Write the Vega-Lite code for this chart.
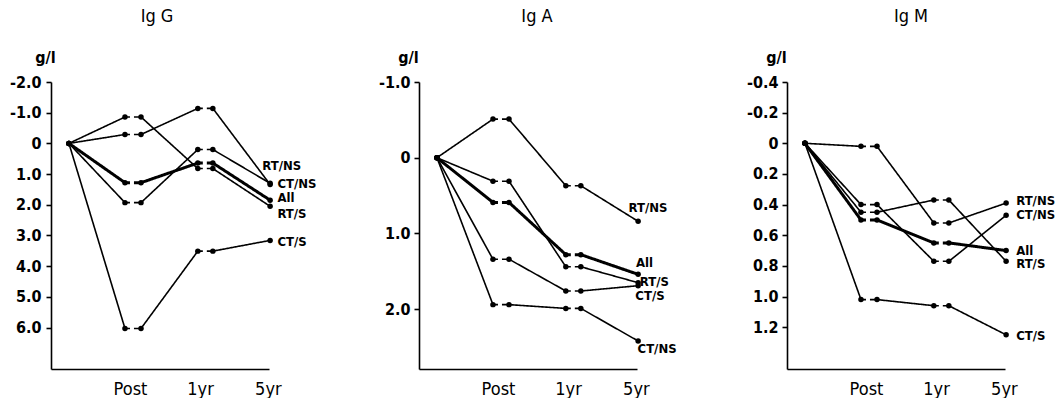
{
  "$schema": "https://vega.github.io/schema/vega-lite/v6.json",
  "padding": {"left": 9, "top": 8, "right": 0, "bottom": 0},
  "background": "white",
  "config": {
    "view": {"stroke": null},
    "font": "DejaVu Sans Condensed",
    "axis": {"grid": false, "domainColor": "black", "domainWidth": 1.6, "tickColor": "black", "tickWidth": 1.6, "labelColor": "black", "titleColor": "black", "labelFont": "DejaVu Sans Condensed", "titleFont": "DejaVu Sans Condensed"},
    "concat": {"spacing": 150}
  },
  "datasets": {
    "pts": [
      {"panel": "Ig G", "series": "All", "time": "Pre", "t": 0, "v": 0},
      {"panel": "Ig G", "series": "All", "time": "Post", "t": 1.0, "v": 1.28},
      {"panel": "Ig G", "series": "All", "time": "Post", "t": 1.286, "v": 1.28},
      {"panel": "Ig G", "series": "All", "time": "1yr", "t": 2.3, "v": 0.64},
      {"panel": "Ig G", "series": "All", "time": "1yr", "t": 2.568, "v": 0.64},
      {"panel": "Ig G", "series": "All", "time": "5yr", "t": 3.59, "v": 1.85},
      {"panel": "Ig G", "series": "RT/S", "time": "Pre", "t": 0, "v": 0},
      {"panel": "Ig G", "series": "RT/S", "time": "Post", "t": 1.0, "v": -0.86},
      {"panel": "Ig G", "series": "RT/S", "time": "Post", "t": 1.286, "v": -0.86},
      {"panel": "Ig G", "series": "RT/S", "time": "1yr", "t": 2.3, "v": 0.82},
      {"panel": "Ig G", "series": "RT/S", "time": "1yr", "t": 2.568, "v": 0.82},
      {"panel": "Ig G", "series": "RT/S", "time": "5yr", "t": 3.59, "v": 2.05},
      {"panel": "Ig G", "series": "RT/NS", "time": "Pre", "t": 0, "v": 0},
      {"panel": "Ig G", "series": "RT/NS", "time": "Post", "t": 1.0, "v": 1.93},
      {"panel": "Ig G", "series": "RT/NS", "time": "Post", "t": 1.286, "v": 1.93},
      {"panel": "Ig G", "series": "RT/NS", "time": "1yr", "t": 2.3, "v": 0.2},
      {"panel": "Ig G", "series": "RT/NS", "time": "1yr", "t": 2.568, "v": 0.2},
      {"panel": "Ig G", "series": "RT/NS", "time": "5yr", "t": 3.59, "v": 1.3},
      {"panel": "Ig G", "series": "CT/NS", "time": "Pre", "t": 0, "v": 0},
      {"panel": "Ig G", "series": "CT/NS", "time": "Post", "t": 1.0, "v": -0.29},
      {"panel": "Ig G", "series": "CT/NS", "time": "Post", "t": 1.286, "v": -0.29},
      {"panel": "Ig G", "series": "CT/NS", "time": "1yr", "t": 2.3, "v": -1.14},
      {"panel": "Ig G", "series": "CT/NS", "time": "1yr", "t": 2.568, "v": -1.14},
      {"panel": "Ig G", "series": "CT/NS", "time": "5yr", "t": 3.59, "v": 1.34},
      {"panel": "Ig G", "series": "CT/S", "time": "Pre", "t": 0, "v": 0},
      {"panel": "Ig G", "series": "CT/S", "time": "Post", "t": 1.0, "v": 6.03},
      {"panel": "Ig G", "series": "CT/S", "time": "Post", "t": 1.286, "v": 6.03},
      {"panel": "Ig G", "series": "CT/S", "time": "1yr", "t": 2.3, "v": 3.51},
      {"panel": "Ig G", "series": "CT/S", "time": "1yr", "t": 2.568, "v": 3.51},
      {"panel": "Ig G", "series": "CT/S", "time": "5yr", "t": 3.59, "v": 3.16},

      {"panel": "Ig A", "series": "All", "time": "Pre", "t": 0, "v": 0},
      {"panel": "Ig A", "series": "All", "time": "Post", "t": 1.0, "v": 0.59},
      {"panel": "Ig A", "series": "All", "time": "Post", "t": 1.286, "v": 0.59},
      {"panel": "Ig A", "series": "All", "time": "1yr", "t": 2.3, "v": 1.28},
      {"panel": "Ig A", "series": "All", "time": "1yr", "t": 2.568, "v": 1.28},
      {"panel": "Ig A", "series": "All", "time": "5yr", "t": 3.59, "v": 1.54},
      {"panel": "Ig A", "series": "RT/S", "time": "Pre", "t": 0, "v": 0},
      {"panel": "Ig A", "series": "RT/S", "time": "Post", "t": 1.0, "v": 0.31},
      {"panel": "Ig A", "series": "RT/S", "time": "Post", "t": 1.286, "v": 0.31},
      {"panel": "Ig A", "series": "RT/S", "time": "1yr", "t": 2.3, "v": 1.44},
      {"panel": "Ig A", "series": "RT/S", "time": "1yr", "t": 2.568, "v": 1.44},
      {"panel": "Ig A", "series": "RT/S", "time": "5yr", "t": 3.59, "v": 1.65},
      {"panel": "Ig A", "series": "RT/NS", "time": "Pre", "t": 0, "v": 0},
      {"panel": "Ig A", "series": "RT/NS", "time": "Post", "t": 1.0, "v": -0.51},
      {"panel": "Ig A", "series": "RT/NS", "time": "Post", "t": 1.286, "v": -0.51},
      {"panel": "Ig A", "series": "RT/NS", "time": "1yr", "t": 2.3, "v": 0.37},
      {"panel": "Ig A", "series": "RT/NS", "time": "1yr", "t": 2.568, "v": 0.37},
      {"panel": "Ig A", "series": "RT/NS", "time": "5yr", "t": 3.59, "v": 0.84},
      {"panel": "Ig A", "series": "CT/NS", "time": "Pre", "t": 0, "v": 0},
      {"panel": "Ig A", "series": "CT/NS", "time": "Post", "t": 1.0, "v": 1.94},
      {"panel": "Ig A", "series": "CT/NS", "time": "Post", "t": 1.286, "v": 1.94},
      {"panel": "Ig A", "series": "CT/NS", "time": "1yr", "t": 2.3, "v": 1.99},
      {"panel": "Ig A", "series": "CT/NS", "time": "1yr", "t": 2.568, "v": 1.99},
      {"panel": "Ig A", "series": "CT/NS", "time": "5yr", "t": 3.59, "v": 2.42},
      {"panel": "Ig A", "series": "CT/S", "time": "Pre", "t": 0, "v": 0},
      {"panel": "Ig A", "series": "CT/S", "time": "Post", "t": 1.0, "v": 1.34},
      {"panel": "Ig A", "series": "CT/S", "time": "Post", "t": 1.286, "v": 1.34},
      {"panel": "Ig A", "series": "CT/S", "time": "1yr", "t": 2.3, "v": 1.76},
      {"panel": "Ig A", "series": "CT/S", "time": "1yr", "t": 2.568, "v": 1.76},
      {"panel": "Ig A", "series": "CT/S", "time": "5yr", "t": 3.59, "v": 1.69},

      {"panel": "Ig M", "series": "All", "time": "Pre", "t": 0, "v": 0},
      {"panel": "Ig M", "series": "All", "time": "Post", "t": 1.0, "v": 0.5},
      {"panel": "Ig M", "series": "All", "time": "Post", "t": 1.286, "v": 0.5},
      {"panel": "Ig M", "series": "All", "time": "1yr", "t": 2.3, "v": 0.65},
      {"panel": "Ig M", "series": "All", "time": "1yr", "t": 2.568, "v": 0.65},
      {"panel": "Ig M", "series": "All", "time": "5yr", "t": 3.59, "v": 0.7},
      {"panel": "Ig M", "series": "RT/S", "time": "Pre", "t": 0, "v": 0},
      {"panel": "Ig M", "series": "RT/S", "time": "Post", "t": 1.0, "v": 0.45},
      {"panel": "Ig M", "series": "RT/S", "time": "Post", "t": 1.286, "v": 0.45},
      {"panel": "Ig M", "series": "RT/S", "time": "1yr", "t": 2.3, "v": 0.37},
      {"panel": "Ig M", "series": "RT/S", "time": "1yr", "t": 2.568, "v": 0.37},
      {"panel": "Ig M", "series": "RT/S", "time": "5yr", "t": 3.59, "v": 0.77},
      {"panel": "Ig M", "series": "RT/NS", "time": "Pre", "t": 0, "v": 0},
      {"panel": "Ig M", "series": "RT/NS", "time": "Post", "t": 1.0, "v": 0.02},
      {"panel": "Ig M", "series": "RT/NS", "time": "Post", "t": 1.286, "v": 0.02},
      {"panel": "Ig M", "series": "RT/NS", "time": "1yr", "t": 2.3, "v": 0.52},
      {"panel": "Ig M", "series": "RT/NS", "time": "1yr", "t": 2.568, "v": 0.52},
      {"panel": "Ig M", "series": "RT/NS", "time": "5yr", "t": 3.59, "v": 0.39},
      {"panel": "Ig M", "series": "CT/NS", "time": "Pre", "t": 0, "v": 0},
      {"panel": "Ig M", "series": "CT/NS", "time": "Post", "t": 1.0, "v": 0.4},
      {"panel": "Ig M", "series": "CT/NS", "time": "Post", "t": 1.286, "v": 0.4},
      {"panel": "Ig M", "series": "CT/NS", "time": "1yr", "t": 2.3, "v": 0.77},
      {"panel": "Ig M", "series": "CT/NS", "time": "1yr", "t": 2.568, "v": 0.77},
      {"panel": "Ig M", "series": "CT/NS", "time": "5yr", "t": 3.59, "v": 0.47},
      {"panel": "Ig M", "series": "CT/S", "time": "Pre", "t": 0, "v": 0},
      {"panel": "Ig M", "series": "CT/S", "time": "Post", "t": 1.0, "v": 1.02},
      {"panel": "Ig M", "series": "CT/S", "time": "Post", "t": 1.286, "v": 1.02},
      {"panel": "Ig M", "series": "CT/S", "time": "1yr", "t": 2.3, "v": 1.06},
      {"panel": "Ig M", "series": "CT/S", "time": "1yr", "t": 2.568, "v": 1.06},
      {"panel": "Ig M", "series": "CT/S", "time": "5yr", "t": 3.59, "v": 1.25}
    ],
    "labels": [
      {"panel": "Ig G", "series": "RT/NS", "t": 3.45, "v": 0.74},
      {"panel": "Ig G", "series": "CT/NS", "t": 3.72, "v": 1.32},
      {"panel": "Ig G", "series": "All", "t": 3.72, "v": 1.79},
      {"panel": "Ig G", "series": "RT/S", "t": 3.72, "v": 2.31},
      {"panel": "Ig G", "series": "CT/S", "t": 3.72, "v": 3.2},
      {"panel": "Ig A", "series": "RT/NS", "t": 3.42, "v": 0.66},
      {"panel": "Ig A", "series": "All", "t": 3.55, "v": 1.39},
      {"panel": "Ig A", "series": "RT/S", "t": 3.62, "v": 1.64},
      {"panel": "Ig A", "series": "CT/S", "t": 3.54, "v": 1.82},
      {"panel": "Ig A", "series": "CT/NS", "t": 3.58, "v": 2.53},
      {"panel": "Ig M", "series": "RT/NS", "t": 3.77, "v": 0.375},
      {"panel": "Ig M", "series": "CT/NS", "t": 3.77, "v": 0.47},
      {"panel": "Ig M", "series": "All", "t": 3.77, "v": 0.7},
      {"panel": "Ig M", "series": "RT/S", "t": 3.77, "v": 0.79},
      {"panel": "Ig M", "series": "CT/S", "t": 3.77, "v": 1.26}
    ]
  },
  "hconcat": [
    {
      "width": 218, "height": 287,
      "title": {"text": "Ig G", "font": "DejaVu Sans Condensed", "fontSize": 18, "fontWeight": "normal", "color": "black", "frame": "group", "dx": -3, "offset": 9, "baseline": "alphabetic"},
      "data": {"name": "pts"},
      "transform": [{"filter": "datum.panel === 'Ig G'"}],
      "encoding": {
        "x": {"field": "t", "type": "quantitative", "scale": {"domain": [-0.32, 3.57], "nice": false, "zero": false}, "axis": {"values": [1.09, 2.34, 3.55], "labelExpr": "datum.value < 1.5 ? 'Post' : (datum.value < 3 ? '1yr' : '5yr')", "ticks": false, "labelFontSize": 18, "labelPadding": 11, "labelFlush": false, "labelOverlap": false, "title": null}},
        "y": {"field": "v", "type": "quantitative", "scale": {"domain": [-2, 7.35], "reverse": true, "nice": false, "zero": false}, "axis": {"values": [-2, -1, 0, 1, 2, 3, 4, 5, 6], "labelExpr": "datum.value === 0 ? '0' : replace(format(datum.value, '.1f'), '\u2212', '-')", "tickSize": 5, "labelPadding": 5, "labelFontSize": 16, "labelFontWeight": "bold", "labelOverlap": false, "title": "g/l", "titleAngle": 0, "titleX": -6, "titleY": -20, "titleAlign": "center", "titleBaseline": "alphabetic", "titleFontSize": 16, "titleFontWeight": "bold"}}
      },
      "layer": [
        {
          "transform": [
            {"window": [{"op": "lead", "field": "t", "as": "t2"}, {"op": "lead", "field": "v", "as": "v2"}, {"op": "lead", "field": "time", "as": "time2"}], "groupby": ["series"], "sort": [{"field": "t", "order": "ascending"}]},
            {"filter": "datum.t2 != null"}
          ],
          "mark": {"type": "rule", "color": "black"},
          "encoding": {
            "x2": {"field": "t2"},
            "y2": {"field": "v2"},
            "strokeWidth": {"condition": {"test": "datum.series === 'All'", "value": 3}, "value": 1.6},
            "strokeDash": {"condition": {"test": "datum.time === datum.time2", "value": [5, 4]}, "value": [1, 0]}
          }
        },
        {
          "mark": {"type": "circle", "size": 30, "color": "black", "opacity": 1}
        },
        {
          "data": {"name": "labels"},
          "transform": [{"filter": "datum.panel === 'Ig G'"}],
          "mark": {"type": "text", "align": "left", "baseline": "middle", "font": "DejaVu Sans Condensed", "fontWeight": "bold", "fontSize": 13, "color": "black"},
          "encoding": {"text": {"field": "series"}}
        }
      ]
    },
    {
      "width": 218, "height": 287,
      "title": {"text": "Ig A", "font": "DejaVu Sans Condensed", "fontSize": 18, "fontWeight": "normal", "color": "black", "frame": "group", "dx": 9, "offset": 9, "baseline": "alphabetic"},
      "data": {"name": "pts"},
      "transform": [{"filter": "datum.panel === 'Ig A'"}],
      "encoding": {
        "x": {"field": "t", "type": "quantitative", "scale": {"domain": [-0.32, 3.57], "nice": false, "zero": false}, "axis": {"values": [1.09, 2.34, 3.55], "labelExpr": "datum.value < 1.5 ? 'Post' : (datum.value < 3 ? '1yr' : '5yr')", "ticks": false, "labelFontSize": 18, "labelPadding": 11, "labelFlush": false, "labelOverlap": false, "title": null}},
        "y": {"field": "v", "type": "quantitative", "scale": {"domain": [-1, 2.79], "reverse": true, "nice": false, "zero": false}, "axis": {"values": [-1, 0, 1, 2], "labelExpr": "datum.value === 0 ? '0' : replace(format(datum.value, '.1f'), '\u2212', '-')", "tickSize": 5, "labelPadding": 4, "labelFontSize": 16, "labelFontWeight": "bold", "labelOverlap": false, "title": "g/l", "titleAngle": 0, "titleX": -11, "titleY": -20, "titleAlign": "center", "titleBaseline": "alphabetic", "titleFontSize": 16, "titleFontWeight": "bold"}}
      },
      "layer": [
        {
          "transform": [
            {"window": [{"op": "lead", "field": "t", "as": "t2"}, {"op": "lead", "field": "v", "as": "v2"}, {"op": "lead", "field": "time", "as": "time2"}], "groupby": ["series"], "sort": [{"field": "t", "order": "ascending"}]},
            {"filter": "datum.t2 != null"}
          ],
          "mark": {"type": "rule", "color": "black"},
          "encoding": {
            "x2": {"field": "t2"},
            "y2": {"field": "v2"},
            "strokeWidth": {"condition": {"test": "datum.series === 'All'", "value": 3}, "value": 1.6},
            "strokeDash": {"condition": {"test": "datum.time === datum.time2", "value": [5, 4]}, "value": [1, 0]}
          }
        },
        {
          "mark": {"type": "circle", "size": 30, "color": "black", "opacity": 1}
        },
        {
          "data": {"name": "labels"},
          "transform": [{"filter": "datum.panel === 'Ig A'"}],
          "mark": {"type": "text", "align": "left", "baseline": "middle", "font": "DejaVu Sans Condensed", "fontWeight": "bold", "fontSize": 13, "color": "black"},
          "encoding": {"text": {"field": "series"}}
        }
      ]
    },
    {
      "width": 218, "height": 287,
      "title": {"text": "Ig M", "font": "DejaVu Sans Condensed", "fontSize": 18, "fontWeight": "normal", "color": "black", "frame": "group", "dx": 15, "offset": 9, "baseline": "alphabetic"},
      "data": {"name": "pts"},
      "transform": [{"filter": "datum.panel === 'Ig M'"}],
      "encoding": {
        "x": {"field": "t", "type": "quantitative", "scale": {"domain": [-0.32, 3.57], "nice": false, "zero": false}, "axis": {"values": [1.09, 2.34, 3.55], "labelExpr": "datum.value < 1.5 ? 'Post' : (datum.value < 3 ? '1yr' : '5yr')", "ticks": false, "labelFontSize": 18, "labelPadding": 11, "labelFlush": false, "labelOverlap": false, "title": null}},
        "y": {"field": "v", "type": "quantitative", "scale": {"domain": [-0.4, 1.473], "reverse": true, "nice": false, "zero": false}, "axis": {"values": [-0.4, -0.2, 0, 0.2, 0.4, 0.6, 0.8, 1.0, 1.2], "labelExpr": "datum.value === 0 ? '0' : replace(format(datum.value, '.1f'), '\u2212', '-')", "tickSize": 5, "labelPadding": 4, "labelFontSize": 16, "labelFontWeight": "bold", "labelOverlap": false, "title": "g/l", "titleAngle": 0, "titleX": -11, "titleY": -20, "titleAlign": "center", "titleBaseline": "alphabetic", "titleFontSize": 16, "titleFontWeight": "bold"}}
      },
      "layer": [
        {
          "transform": [
            {"window": [{"op": "lead", "field": "t", "as": "t2"}, {"op": "lead", "field": "v", "as": "v2"}, {"op": "lead", "field": "time", "as": "time2"}], "groupby": ["series"], "sort": [{"field": "t", "order": "ascending"}]},
            {"filter": "datum.t2 != null"}
          ],
          "mark": {"type": "rule", "color": "black"},
          "encoding": {
            "x2": {"field": "t2"},
            "y2": {"field": "v2"},
            "strokeWidth": {"condition": {"test": "datum.series === 'All'", "value": 3}, "value": 1.6},
            "strokeDash": {"condition": {"test": "datum.time === datum.time2", "value": [5, 4]}, "value": [1, 0]}
          }
        },
        {
          "mark": {"type": "circle", "size": 30, "color": "black", "opacity": 1}
        },
        {
          "data": {"name": "labels"},
          "transform": [{"filter": "datum.panel === 'Ig M'"}],
          "mark": {"type": "text", "align": "left", "baseline": "middle", "font": "DejaVu Sans Condensed", "fontWeight": "bold", "fontSize": 13, "color": "black"},
          "encoding": {"text": {"field": "series"}}
        }
      ]
    }
  ],
  "resolve": {"scale": {"x": "independent", "y": "independent"}},
  "bounds": "flush"
}
